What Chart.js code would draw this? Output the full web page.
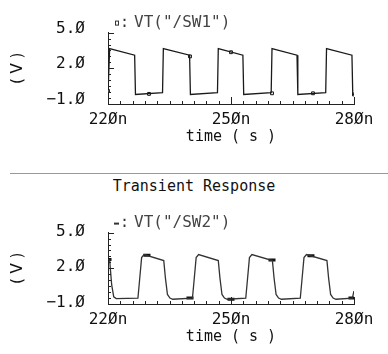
<!DOCTYPE html>
<html>
<head>
<meta charset="utf-8">
<script src="https://cdn.jsdelivr.net/npm/chart.js@4.4.0/dist/chart.umd.min.js"></script>
<style>
  html, body { margin: 0; padding: 0; background: #fff; }
  body { width: 388px; height: 354px; position: relative; overflow: hidden; }
  .plot { position: absolute; left: 0; width: 388px; height: 150px; }
  #sep { position: absolute; left: 10px; right: 0; top: 173px; border-top: 1px solid #999; }
  #title { position: absolute; left: 0; width: 388px; top: 177px; text-align: center;
           font: 15px "DejaVu Sans Mono"; color: #111; }
</style>
</head>
<body>
<div class="plot" style="top:0"><canvas id="sw1Chart"></canvas></div>
<div id="sep"></div>
<div id="title">Transient Response</div>
<div class="plot" style="top:200px"><canvas id="sw2Chart"></canvas></div>
<script>
// time axis (ns) and labelled ticks
const xLabelTicks = [220, 250, 280];
const yLabelTicks = [-1, 2, 5];

// VT("/SW1") - square wave
const sw1Time = [220, 220.4, 226.5, 226.7, 233.3, 233.5, 239.9, 240.1, 246.7, 246.9, 252.9, 253.1,
                 259.8, 260.0, 266.1, 266.3, 273.1, 273.3, 279.5, 279.7, 280];
const sw1Volt = [-0.1, 3.65, 3.1, -0.2, -0.05, 3.65, 3.1, -0.2, -0.05, 3.65, 3.1, -0.2,
                 -0.05, 3.65, 3.1, -0.2, -0.05, 3.65, 3.1, -0.2, -0.2];
const sw1MarkTime = [220, 230, 240, 250, 260, 270, 280];
const sw1MarkVolt = [0.1, -0.15, 3.0, 3.35, -0.1, -0.1, -0.2];

// VT("/SW2") - inverted, delayed, rounded edges
const sw2Time = [220, 220.4, 220.9, 221.4, 222.0, 227.3, 227.7, 228.2, 228.8,
                 233.6, 234.0, 234.5, 235.1, 235.8, 240.6, 241.0, 241.5, 242.1,
                 246.9, 247.3, 247.8, 248.4, 249.1, 253.6, 254.0, 254.5, 255.1,
                 260.1, 260.5, 261.0, 261.6, 262.3, 266.9, 267.3, 267.8, 268.4,
                 273.4, 273.8, 274.3, 274.9, 275.6, 279.6, 280];
const sw2Volt = [2.75, 2.7, 0.6, -0.4, -0.55, -0.5, 1.0, 2.9, 3.15,
                 2.65, 1.2, -0.2, -0.5, -0.6, -0.5, 1.0, 2.9, 3.15,
                 2.65, 1.2, -0.2, -0.5, -0.6, -0.5, 1.0, 2.9, 3.15,
                 2.65, 1.2, -0.2, -0.5, -0.6, -0.5, 1.0, 2.9, 3.15,
                 2.65, 1.2, -0.2, -0.5, -0.6, -0.5, 0.1];
const sw2MarkTime = [220, 229.5, 240, 250, 260, 269.5, 279.5];
const sw2MarkVolt = [2.75, 3.1, -0.5, -0.6, 2.7, 3.05, -0.5];

const monoFont = 'DejaVu Sans Mono';

function pts(xs, ys) {
    return xs.map((x, i) => ({ x: x, y: ys[i] }));
}

function slashZero(s) {
    return s.replace(/0/g, 'Ø');
}

// ticks drawn inward, long ones where there is a label
const innerTicks = {
    id: 'innerTicks',
    afterDraw(chart) {
        const ctx = chart.ctx;
        const xs = chart.scales.x, ys = chart.scales.y;
        const area = chart.chartArea;
        ctx.save();
        ctx.strokeStyle = '#222';
        ctx.lineWidth = 1;
        ctx.beginPath();
        xs.ticks.forEach(t => {
            const px = Math.round(xs.getPixelForValue(t.value)) + 0.5;
            const len = xLabelTicks.includes(t.value) ? 7 : 3;
            ctx.moveTo(px, area.bottom);
            ctx.lineTo(px, area.bottom - len);
        });
        ys.ticks.forEach(t => {
            const py = Math.round(ys.getPixelForValue(t.value)) + 0.5;
            const len = yLabelTicks.includes(t.value) ? 6 : 3;
            ctx.moveTo(area.left, py);
            ctx.lineTo(area.left + len, py);
        });
        ctx.stroke();
        ctx.restore();
    }
};

// legend: marker, colon and signal name above the plot
const signalLegend = {
    id: 'signalLegend',
    afterDraw(chart, args, opts) {
        const ctx = chart.ctx;
        const area = chart.chartArea;
        const y = area.top - 7;
        ctx.save();
        ctx.strokeStyle = '#333';
        ctx.fillStyle = '#333';
        ctx.lineWidth = 1;
        if (opts.marker === 'rect') {
            ctx.strokeRect(area.left + 7.5, y - 4.5, 3, 4);
        } else {
            ctx.fillRect(area.left + 6, y - 3, 5, 2);
        }
        ctx.font = '15px "' + monoFont + '"';
        ctx.textBaseline = 'middle';
        ctx.fillText(':', area.left + 12, y - 2);
        ctx.font = '16px "' + monoFont + '"';
        ctx.fillStyle = '#444';
        ctx.fillText(opts.text, area.left + 26, y - 3);
        ctx.restore();
    }
};

function makeChart(id, lineData, markData, lineColor, markStyle, legendText, padTop, yLabelShift) {
    return new Chart(document.getElementById(id).getContext('2d'), {
        type: 'line',
        data: {
            datasets: [{
                data: lineData,
                borderColor: lineColor,
                borderWidth: 1.3,
                pointRadius: 0,
                tension: 0
            }, {
                data: markData,
                showLine: false,
                pointStyle: markStyle,
                pointRadius: markStyle === 'rect' ? 2 : 3.5,
                borderWidth: markStyle === 'rect' ? 1 : 3,
                borderColor: '#111',
                backgroundColor: '#fff'
            }]
        },
        options: {
            responsive: true,
            maintainAspectRatio: false,
            animation: false,
            events: [],
            layout: { padding: { top: padTop, right: 34, left: 0, bottom: 0 } },
            plugins: {
                legend: { display: false },
                tooltip: { enabled: false },
                signalLegend: { text: legendText, marker: markStyle }
            },
            scales: {
                x: {
                    type: 'linear',
                    min: 220,
                    max: 280,
                    afterFit: s => { s.height = 46; },
                    grid: { display: false, drawTicks: false },
                    border: { display: true, color: '#222', width: 1 },
                    ticks: {
                        stepSize: 3,
                        autoSkip: false,
                        maxRotation: 0,
                        padding: 6,
                        color: '#111',
                        font: { family: monoFont, size: 16 },
                        callback: v => xLabelTicks.includes(v) ? slashZero(String(v)) + 'n' : ''
                    },
                    title: {
                        display: true,
                        text: 'time ( s )',
                        color: '#111',
                        font: { family: monoFont, size: 15 },
                        padding: { top: 0, bottom: 4 }
                    }
                },
                y: {
                    min: -1,
                    max: 5,
                    afterFit: s => { s.width = 108; },
                    grid: { display: false, drawTicks: false },
                    border: { display: true, color: '#222', width: 1 },
                    ticks: {
                        stepSize: 0.5,
                        autoSkip: false,
                        padding: 23,
                        labelOffset: yLabelShift,
                        color: '#111',
                        font: { family: monoFont, size: 16 },
                        callback: v => yLabelTicks.includes(v) ? slashZero(v.toFixed(1)).replace('-', '\u2212') : ''
                    },
                    title: {
                        display: true,
                        text: '( V )',
                        color: '#111',
                        font: { family: 'DejaVu Sans', size: 15 },
                        padding: { top: 9, bottom: 0 }
                    }
                }
            }
        },
        plugins: [innerTicks, signalLegend]
    });
}

makeChart('sw1Chart', pts(sw1Time, sw1Volt), pts(sw1MarkTime, sw1MarkVolt), '#1a1a1a', 'rect', 'VT("/SW1")', 28, -4);
makeChart('sw2Chart', pts(sw2Time, sw2Volt), pts(sw2MarkTime, sw2MarkVolt), '#333333', 'line', 'VT("/SW2")', 31, -1);
</script>
</body>
</html>
